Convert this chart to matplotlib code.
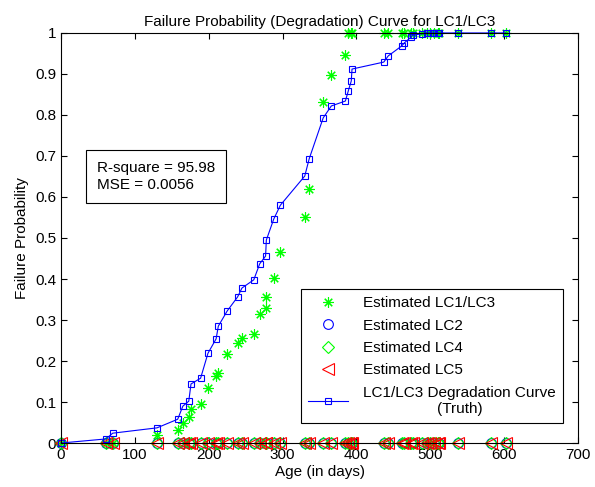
import numpy as np
import matplotlib.pyplot as plt

plt.rcParams['font.family'] = ['Liberation Sans', 'DejaVu Sans']

# ages (days) of the observed failures
ages = [0, 61, 70, 130, 158, 165, 173, 176, 189, 199, 210, 213, 225, 239, 245,
        261, 269, 277, 278, 288, 297, 330, 336, 355, 366, 385, 389, 393, 394,
        437, 443, 461, 465, 474, 477, 489, 495, 500, 505, 510, 512, 537, 582, 602]

truth = [0.0, 0.01, 0.024, 0.037, 0.058, 0.09, 0.102, 0.144, 0.158, 0.219, 0.254,
         0.285, 0.322, 0.356, 0.378, 0.398, 0.437, 0.456, 0.495, 0.546, 0.580,
         0.651, 0.693, 0.793, 0.822, 0.834, 0.859, 0.883, 0.912, 0.929, 0.944,
         0.968, 0.976, 0.99, 0.995, 0.998, 1, 1, 1, 1, 1, 1, 1, 1]

est_lc13 = [0.0, 0.0, 0.0, 0.02, 0.032, 0.05, 0.063, 0.082, 0.095, 0.134, 0.163,
            0.17, 0.216, 0.243, 0.256, 0.265, 0.314, 0.33, 0.356, 0.402, 0.465,
            0.551, 0.620, 0.832, 0.898, 0.946, 1, 1, 1, 1, 1, 1, 1, 1, 1, 1, 1,
            1, 1, 1, 1, 1, 1, 1]

est_lc2 = [0.0] * len(ages)
est_lc4 = [0.0] * len(ages)
est_lc5 = [0.0] * len(ages)

fig = plt.figure(figsize=(5.95, 4.87), dpi=100)
ax = fig.add_axes([0.1025, 0.0903, 0.869, 0.842])

ax.plot(ages, est_lc13, ls='none', marker=(8, 2, 0), ms=7.5, mec='#00ff00',
        mew=0.8, label='Estimated LC1/LC3')
ax.plot(ages, est_lc2, ls='none', marker='o', ms=7, mfc='none', mec='#0000ff',
        mew=0.8, label='Estimated LC2')
ax.plot(ages, est_lc4, ls='none', marker='D', ms=6, mfc='none', mec='#00ff00',
        mew=0.8, label='Estimated LC4')
ax.plot(ages, est_lc5, ls='none', marker='<', ms=8, mfc='none', mec='#ff0000',
        mew=0.8, label='Estimated LC5')
ax.plot(ages, truth, color='#0000ff', lw=0.8, marker='s', ms=4.5, mfc='none',
        mec='#0000ff', mew=0.8,
        label='LC1/LC3 Degradation Curve\n(Truth)')

ax.set_xlim(0, 700)
ax.set_ylim(0, 1)
ax.set_xticks(np.arange(0, 701, 100))
ax.set_yticks(np.arange(0, 1.01, 0.1))
ax.set_yticklabels(['0', '0.1', '0.2', '0.3', '0.4', '0.5', '0.6', '0.7',
                    '0.8', '0.9', '1'])
ax.tick_params(direction='in', top=True, right=True, labelsize=11, length=4)
for ln in ax.lines:
    ln.set_clip_on(False)

ax.set_title('Failure Probability (Degradation) Curve for LC1/LC3', fontsize=11, pad=5)
ax.set_xlabel('Age (in days)', fontsize=11, labelpad=2)
ax.set_ylabel('Failure Probability', fontsize=11, labelpad=4)

ax.text(0.07, 0.65, 'R-square = 95.98\nMSE = 0.0056', transform=ax.transAxes,
        fontsize=11, va='center', ha='left', linespacing=1.25,
        bbox=dict(boxstyle='square,pad=0.7', fc='white', ec='black', lw=0.8))

leg = ax.legend(loc='lower left', bbox_to_anchor=(0.465, 0.049), fontsize=11,
                fancybox=False, framealpha=1, edgecolor='black',
                handlelength=2.6, labelspacing=0.55, borderpad=0.45,
                handletextpad=1.0, borderaxespad=0)
leg.get_frame().set_linewidth(0.8)
leg.get_texts()[-1].set_multialignment('center')

fig.savefig('out.png', dpi=100)
